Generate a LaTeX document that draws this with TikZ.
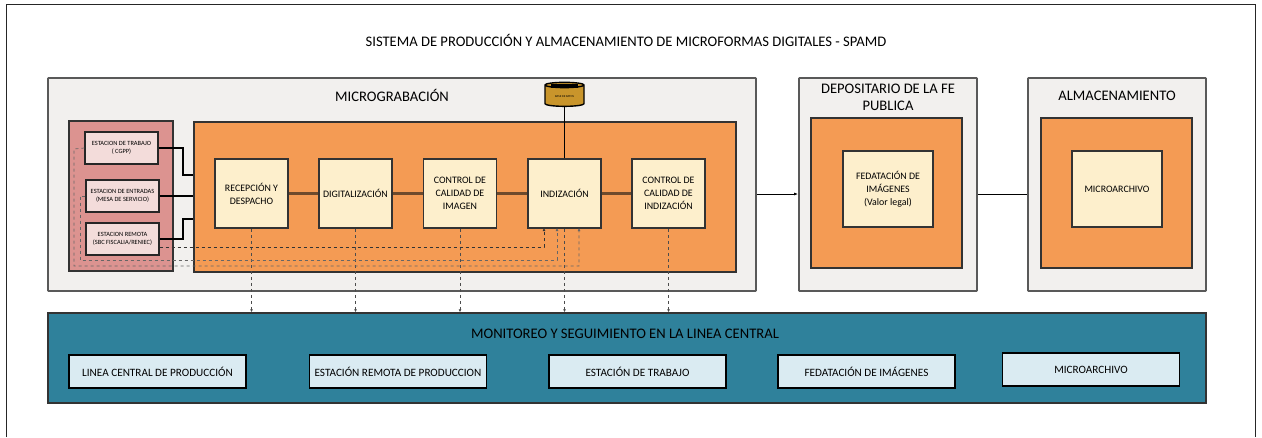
\documentclass[tikz,border=0pt]{standalone}
\usepackage{fontspec}
\setmainfont{Carlito}
\usetikzlibrary{shapes,arrows,arrows.meta,positioning,calc}
\definecolor{panelgray}{HTML}{F2F0EE}
\definecolor{orangefill}{HTML}{F49B54}
\definecolor{creamfill}{HTML}{FDEFCC}
\definecolor{redfill}{HTML}{DC9390}
\definecolor{pinkfill}{HTML}{F3DCDA}
\definecolor{tealfill}{HTML}{2F819B}
\definecolor{bluefill}{HTML}{DAEBF2}
\definecolor{brownline}{HTML}{6E4A2C}
\definecolor{goldfill}{HTML}{C9952B}
\begin{document}
\begin{tikzpicture}[x=1pt,y=-1pt]
% Page and frame
   \tikzstyle{panel} = [draw=black!65, fill=panelgray, line width=1.8pt, shape=rectangle, rounded corners=0.6pt, inner sep=0pt]
   \tikzstyle{zone} = [draw=black!80, fill=orangefill, line width=1.5pt, shape=rectangle, inner sep=0pt]
   \tikzstyle{stage} = [draw=black!80, fill=creamfill, line width=1.5pt, shape=rectangle, align=center, font=\fontsize{9.9}{13.2}\selectfont, minimum width=73pt, minimum height=69pt, inner sep=0pt]
   \tikzstyle{source} = [draw=black!85, fill=pinkfill, line width=1.4pt, shape=rectangle, align=center, font=\fontsize{6.4}{8}\selectfont, minimum width=73pt, minimum height=32pt, inner sep=0pt]
   \tikzstyle{monitor} = [draw=black, fill=bluefill, line width=1.3pt, shape=rectangle, font=\fontsize{11.2}{13}\selectfont, minimum width=177pt, minimum height=33pt, inner sep=0pt]
   \tikzstyle{heading} = [font=\fontsize{14.6}{17}\selectfont, align=center, inner sep=0pt]
   \tikzstyle{flow} = [draw=brownline, line width=2.6pt]
   \tikzstyle{wire} = [draw=black, line width=1.3pt]
   \tikzstyle{feed} = [draw=black!80, dashed, line width=0.7pt, -{Latex[length=3pt,width=3pt]}]

\useasboundingbox (0,0) rectangle (1262,437);
\fill[white] (0,0) rectangle (1262,437);
\draw[black!85,line width=1pt] (6,437)--(6,4)--(1255.5,4)--(1255.5,437);

\node (title) at (626,40.5) [heading] {SISTEMA DE PRODUCCIÓN Y ALMACENAMIENTO DE MICROFORMAS DIGITALES - SPAMD};

% Outer panels
\node (micro) at (402,184.5) [panel, minimum width=708pt, minimum height=213pt] {};
\node (depo) at (888,184.5) [panel, minimum width=178pt, minimum height=213pt] {};
\node (alma) at (1117,184.5) [panel, minimum width=178pt, minimum height=213pt] {};
\node (microtitle) at (392,95) [heading] {MICROGRABACIÓN};
\node (depotitle) at (888,97) [heading] {DEPOSITARIO DE LA FE\\PUBLICA};
\node (almatitle) at (1117,96) [heading] {ALMACENAMIENTO};

% Orange zones
\node (redzone) at (121,196) [zone, fill=redfill, minimum width=104pt, minimum height=150pt] {};
\node (microzone) at (465,197) [zone, minimum width=542pt, minimum height=150pt] {};
\node (depozone) at (886.5,193) [zone, minimum width=151pt, minimum height=150pt] {};
\node (almazone) at (1116.5,193) [zone, minimum width=151pt, minimum height=150pt] {};

% Sources
\node (trabajo) at (121.5,148) [source] {ESTACION DE TRABAJO\\( CGPP)};
\node (entradas) at (122.5,196) [source] {ESTACION DE ENTRADAS\\(MESA DE SERVICIO)};
\node (remota) at (122.5,239) [source] {ESTACION REMOTA\\(SBC FISCALIA/RENIEC)};

% Stages
\node (recepcion) at (251.5,193.5) [stage] {RECEPCIÓN Y\\DESPACHO};
\node (digital) at (355.5,193.5) [stage] {DIGITALIZACIÓN};
\node (calidad) at (460,193.5) [stage] {CONTROL DE\\CALIDAD DE\\IMAGEN};
\node (indiza) at (564.5,193.5) [stage] {INDIZACIÓN};
\node (calindiza) at (668.5,193.5) [stage] {CONTROL DE\\CALIDAD DE\\INDIZACIÓN};
\node (fedata) at (888,189) [stage, minimum width=90pt, minimum height=76pt] {FEDATACIÓN DE\\IMÁGENES\\(Valor legal)};
\node (archivo) at (1117,189) [stage, minimum width=90pt, minimum height=76pt] {MICROARCHIVO};

% Data base
\node (base) at (564.5,96) [draw=black, fill=goldfill, line width=1.4pt, shape=cylinder, shape border rotate=90, aspect=0.28, minimum width=39pt, minimum height=24pt, inner sep=0pt, font=\fontsize{3}{3}\selectfont] {\raisebox{-3pt}{BASE DE DATOS}};
\fill[black] ($(base.north west)+(0,2)$) rectangle ($(base.north east)+(0,6)$);

% Monitoring band
\node (band) at (627,358) [draw=black!80, fill=tealfill, line width=1.5pt, shape=rectangle, minimum width=1158pt, minimum height=90pt, inner sep=0pt] {};
\node (bandtitle) at (625,334) [heading] {MONITOREO Y SEGUIMIENTO EN LA LINEA CENTRAL};
\node (linea) at (157.5,371.5) [monitor] {LINEA CENTRAL DE PRODUCCIÓN};
\node (estremota) at (398,371.5) [monitor] {ESTACIÓN REMOTA DE PRODUCCION};
\node (estrabajo) at (637.5,371.5) [monitor] {ESTACIÓN DE TRABAJO};
\node (fedimg) at (866.5,371.5) [monitor] {FEDATACIÓN DE IMÁGENES};
\node (micarch) at (1091,369.5) [monitor] {MICROARCHIVO};

% Connectors
\draw[flow] (recepcion) -- (digital);
\draw[flow] (digital) -- (calidad);
\draw[flow] (calidad) -- (indiza);
\draw[flow] (indiza) -- (calindiza);
\draw[wire,line width=1.8pt] (base.south) -- (indiza.north);
\draw[wire,-{Latex[length=4pt,width=3pt]},line width=0.9pt] (micro.east |- fedata.east) ++(0,5) coordinate (microout) -- (depo.west |- microout);
\draw[wire,line width=0.9pt] (depo.east |- microout) -- (alma.west |- microout);

\coordinate (trabajoin) at (microzone.west |- 0,175);
\coordinate (entradasin) at (microzone.west |- entradas);
\coordinate (remotain) at (microzone.west |- 0,219);
\draw[wire] (trabajo.east) -| (183,175) -- (trabajoin);
\draw[wire] (entradas.east) -- (entradasin);
\draw[wire] (remota.east) -| (183,219) -- (remotain);

\foreach \from/\to in {recepcion/linea,digital/estremota,calidad/estrabajo,indiza/fedimg,calindiza/micarch}
    \draw[feed,draw=black!70] (\from.south) -- (\from.south |- band.north);

\draw[feed] (remota.east |- 0,247) -- (544,247) -- (544,228);
\draw[feed,black!60] (entradas.west) -- (80,196) -- (80,260) -- (557,260) -- (557,228);
\draw[feed,black!60] (trabajo.west) -- (74,149) -- (74,266) -- (579,266) -- (579,228);
\end{tikzpicture}
\end{document}
